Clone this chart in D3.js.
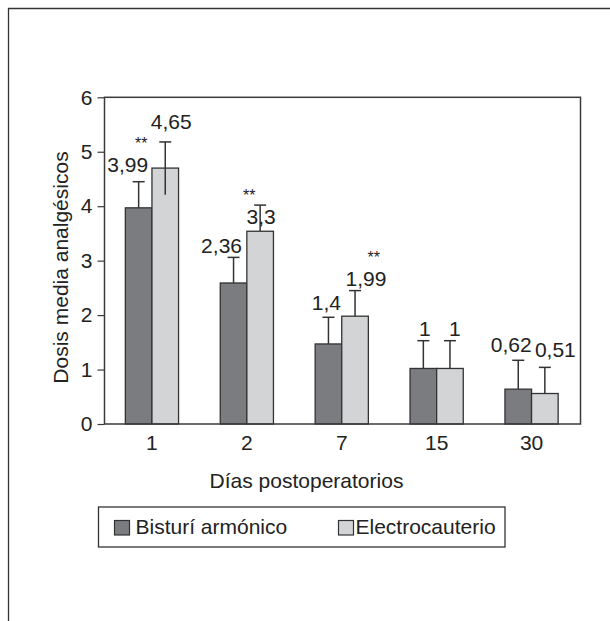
<!DOCTYPE html>
<html>
<head>
<meta charset="utf-8">
<script src="https://cdn.jsdelivr.net/npm/d3@7"></script>
<style>
  body { margin: 0; background: #fff; }
  svg text { font-family: "Liberation Sans", Arial, sans-serif; fill: #222; }
</style>
</head>
<body>
<div class="graph"></div>
<script>
// data
const dias = ['1', '2', '7', '15', '30'];
const series = ['Bisturí armónico', 'Electrocauterio'];
const bisturi = [3.97, 2.59, 1.47, 1.02, 0.64];
const electro = [4.70, 3.54, 1.98, 1.02, 0.56];
const bisturiErrTop = [4.45, 3.06, 1.96, 1.53, 1.17];
const electroErrTop = [5.18, 4.02, 2.45, 1.53, 1.04];
const electroErrLow = [4.21, null, null, null, null];
const bisturiLabels = ['3,99', '2,36', '1,4', '1', '0,62'];
const electroLabels = ['4,65', '3,3', '1,99', '1', '0,51'];
const signif = ['**', '**', '**', '', ''];
const yTicks = [0, 1, 2, 3, 4, 5, 6];

const colors = ['#7b7c80', '#d3d4d6'];
const ink = '#333';

drawChart(610, 621);

function drawChart(width, height) {
    const svg = d3.select('.graph')
        .append('svg')
        .attr('width', width)
        .attr('height', height);

    // outer frame, open on right and bottom like the scan
    svg.append('path')
        .attr('d', `M8.5,${height} V8.5 H${width}`)
        .attr('fill', 'none')
        .attr('stroke', ink)
        .attr('stroke-width', 1.3);

    const plot = {left: 104.5, right: 580.5, top: 97.3, bottom: 424};

    const x = d3.scaleBand()
        .domain(dias)
        .range([plot.left, 579]);
    const y = d3.scaleLinear()
        .domain([0, 6])
        .range([plot.bottom, plot.top]);
    const barW = 26.6;

    const rows = dias.map((d, i) => ({
        dia: d,
        vals: [
            {s: 0, v: bisturi[i], top: bisturiErrTop[i], low: null, label: bisturiLabels[i]},
            {s: 1, v: electro[i], top: electroErrTop[i], low: electroErrLow[i], label: electroLabels[i]}
        ]
    }));

    const groups = svg.selectAll('.grp')
        .data(rows)
        .enter()
        .append('g')
        .classed('grp', true)
        .attr('transform', d => `translate(${x(d.dia) + x.bandwidth() / 2},0)`);

    // error whiskers first so bars cover the lower part
    const bars = groups.selectAll('.bar')
        .data(d => d.vals)
        .enter()
        .append('g')
        .classed('bar', true);

    bars.append('line')
        .attr('x1', d => (d.s - 0.5) * barW)
        .attr('x2', d => (d.s - 0.5) * barW)
        .attr('y1', d => y(d.v))
        .attr('y2', d => y(d.top))
        .attr('stroke', ink)
        .attr('stroke-width', 1.5);
    bars.append('line')
        .attr('x1', d => (d.s - 0.5) * barW - 6)
        .attr('x2', d => (d.s - 0.5) * barW + 6)
        .attr('y1', d => y(d.top))
        .attr('y2', d => y(d.top))
        .attr('stroke', ink)
        .attr('stroke-width', 1.5);

    bars.append('rect')
        .attr('x', d => (d.s - 1) * barW)
        .attr('y', d => y(d.v))
        .attr('width', barW)
        .attr('height', d => plot.bottom - y(d.v))
        .attr('fill', d => colors[d.s])
        .attr('stroke', ink)
        .attr('stroke-width', 1.3);

    // lower whisker visible inside the light bar
    bars.filter(d => d.low != null)
        .append('line')
        .attr('x1', d => (d.s - 0.5) * barW)
        .attr('x2', d => (d.s - 0.5) * barW)
        .attr('y1', d => y(d.v))
        .attr('y2', d => y(d.low))
        .attr('stroke', ink)
        .attr('stroke-width', 1.5);

    // value labels, nudged like the original
    const nudge = [
        [[-11, -9.6], [6, -13]],
        [[-12, -4], [1, 19]],
        [[-2, -7], [11, -5]],
        [[1.6, -5], [5, -5]],
        [[-7, -8], [10.5, -10]]
    ];
    groups.each(function(d, gi) {
        const g = d3.select(this);
        d.vals.forEach(v => {
            g.append('text')
                .attr('x', (v.s - 0.5) * barW + nudge[gi][v.s][0])
                .attr('y', y(v.top) + nudge[gi][v.s][1])
                .attr('text-anchor', 'middle')
                .style('font-size', '21px')
                .text(v.label);
        });
    });

    // significance stars, kept just clear of the value labels
    const starNudge = [[-24, 7.5], [-11, -3.8], [18.7, -27.8]];
    groups.filter((d, i) => signif[i] !== '')
        .append('text')
        .attr('x', (d, i) => 0.5 * barW + starNudge[i][0])
        .attr('y', (d, i) => y(d.vals[1].top) + starNudge[i][1])
        .attr('text-anchor', 'middle')
        .style('font-size', '16px')
        .text((d, i) => signif[i]);

    // plot frame
    svg.append('rect')
        .attr('x', plot.left)
        .attr('y', plot.top)
        .attr('width', plot.right - plot.left)
        .attr('height', plot.bottom - plot.top)
        .attr('fill', 'none')
        .attr('stroke', '#3a3a3a')
        .attr('stroke-width', 1.5);

    const yAxis = d3.axisLeft(y)
        .tickValues(yTicks)
        .tickFormat(d3.format('d'))
        .tickSize(7)
        .tickPadding(5);
    const ya = svg.append('g')
        .attr('transform', `translate(${plot.left},0)`)
        .call(yAxis);
    ya.select('.domain').remove();
    ya.selectAll('line').attr('stroke', '#3a3a3a').attr('stroke-width', 1.2);
    ya.selectAll('text').style('font-size', '21px').attr('fill', '#222')
        .attr('font-family', null);

    const xAxis = d3.axisBottom(x)
        .tickSize(0)
        .tickPadding(11);
    const xa = svg.append('g')
        .attr('transform', `translate(0,${plot.bottom})`)
        .call(xAxis);
    xa.select('.domain').remove();
    xa.selectAll('text').style('font-size', '21px').attr('fill', '#222');

    svg.append('text')
        .attr('x', (plot.left + plot.right) / 2 - 36)
        .attr('y', 488)
        .attr('text-anchor', 'middle')
        .style('font-size', '21px')
        .text('Días postoperatorios');

    svg.append('text')
        .attr('transform', `translate(68,${(148 + 387) / 2}) rotate(-90)`)
        .attr('text-anchor', 'middle')
        .style('font-size', '21px')
        .text('Dosis media analgésicos');

    // legend
    const legend = svg.append('g');
    legend.append('rect')
        .attr('x', 98.5)
        .attr('y', 507)
        .attr('width', 406.5)
        .attr('height', 40)
        .attr('fill', '#fff')
        .attr('stroke', ink)
        .attr('stroke-width', 1.3);
    const items = legend.selectAll('.item')
        .data(series)
        .enter()
        .append('g')
        .classed('item', true)
        .attr('transform', (d, i) => `translate(${i ? 338.5 : 114.5},520.5)`);
    items.append('rect')
        .attr('width', 15)
        .attr('height', 14.5)
        .attr('fill', (d, i) => colors[i])
        .attr('stroke', ink)
        .attr('stroke-width', 1.2);
    items.append('text')
        .attr('x', (d, i) => i ? 17 : 21)
        .attr('y', 13)
        .style('font-size', '21px')
        .text(d => d);
}
</script>
</body>
</html>
